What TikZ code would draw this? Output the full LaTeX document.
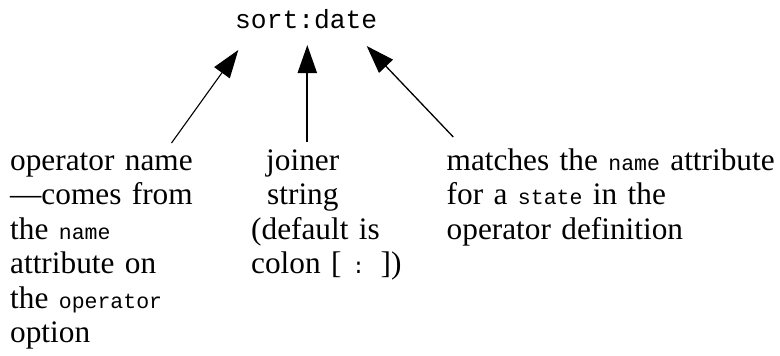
\documentclass[tikz,border=0pt]{standalone}
\usepackage{fontspec}
\setmainfont{Liberation Serif}
\setmonofont{Liberation Mono}
\usetikzlibrary{arrows.meta}
% small monospaced words inside the serif notes
\newcommand{\codeword}[1]{{\fontsize{21.5pt}{34.5pt}\ttfamily #1}}
\begin{document}
\begin{tikzpicture}[x=1pt,y=-1pt,
  note/.style={anchor=base west, inner sep=0pt, align=left,
    text width=#1, font=\fontsize{31.3pt}{34.5pt}\selectfont},
  pointer/.style={-{Triangle[length=28pt,width=19pt]}, line width=#1},
]
\useasboundingbox (0,0) rectangle (780,356);

% the sort expression
\node[anchor=base west, inner sep=0pt, font=\fontsize{26.3pt}{30pt}\ttfamily]
  (expr) at (235,28) {sort:date};

% explanations
\node[note=220pt] (opname) at (10,170)
  {operator name\\—comes from\\the \codeword{name}\\attribute on\\the \codeword{operator}\\option};
\node[note=180pt] (joiner) at (251,170)
  {\hspace*{15pt}joiner\\\hspace*{16pt}string\\(default is\\colon [ \codeword{:} ])};
\node[note=400pt] (state) at (446.5,170)
  {matches the \codeword{name} attribute\\for a \codeword{state} in the\\operator definition};

% arrow ends
\coordinate (opname-tail) at (171.5,143);
\coordinate (opname-tip)  at (238.3,50);
\coordinate (joiner-tail) at (307.3,142);
\coordinate (joiner-tip)  at (307.3,45);
\coordinate (state-tail)  at (453.3,137);
\coordinate (state-tip)   at (366.7,46);

\draw[pointer=1.1pt] (opname-tail) -- (opname-tip);
\draw[pointer=2.2pt] (joiner-tail) -- (joiner-tip);
\draw[pointer=1.3pt] (state-tail)  -- (state-tip);
\end{tikzpicture}
\end{document}
